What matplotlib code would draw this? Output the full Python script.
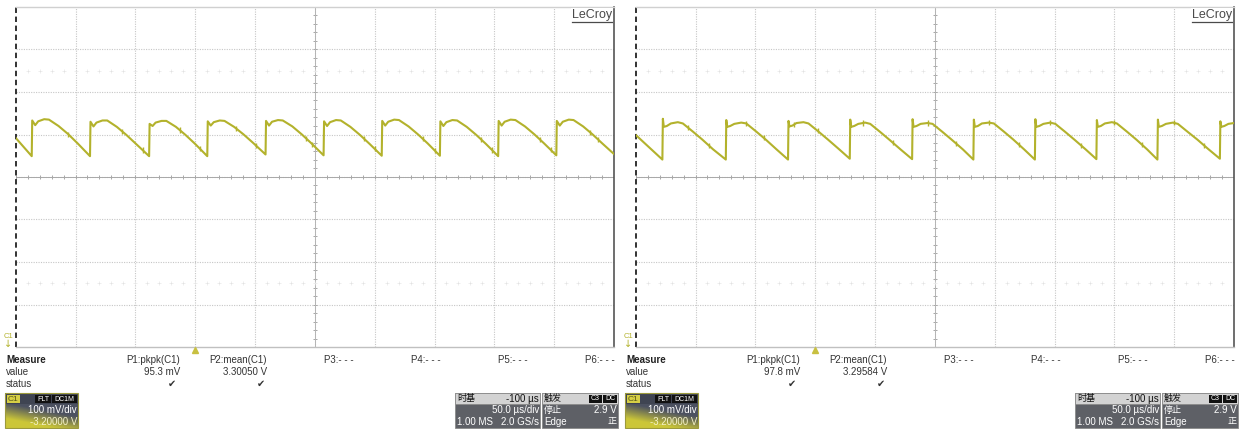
import numpy as np
import matplotlib
matplotlib.use("Agg")
import matplotlib.pyplot as plt
from matplotlib.patches import Rectangle

plt.rcParams['font.family'] = ['Liberation Sans', 'Noto Sans CJK SC', 'DejaVu Sans']

# scope settings (same for both captures)
T_LEFT = -150.0   # us at left edge of screen
T_DIV = 50.0      # us/div
V_CENTER = 3.2    # V at screen centre (offset -3.2 V)
V_DIV = 0.1       # V/div

# left capture, C1 trace (us, V)
left_t = [-150.0, -136.6,
          -136.2, -133.7, -131.2, -126.2, -122.2, -114.2, -106.2, -98.2, -87.9,
          -87.5, -85.0, -82.5, -77.5, -73.5, -65.5, -57.5, -49.5, -38.5,
          -38.1, -35.6, -33.1, -28.1, -24.1, -16.1, -8.1, -0.1, 10.1,
          10.5, 13.0, 15.5, 20.5, 24.5, 32.5, 40.5, 48.5, 58.8,
          59.2, 61.7, 64.2, 69.2, 73.2, 81.2, 89.2, 97.2, 107.3,
          107.7, 110.2, 112.7, 117.7, 121.7, 129.7, 137.7, 145.7, 155.9,
          156.3, 158.8, 161.3, 166.3, 170.3, 178.3, 186.3, 194.3, 204.5,
          204.9, 207.4, 209.9, 214.9, 218.9, 226.9, 234.9, 242.9, 253.2,
          253.6, 256.1, 258.6, 263.6, 267.6, 275.6, 283.6, 291.6, 301.8,
          302.2, 304.7, 307.2, 312.2, 316.2, 324.2, 332.2, 340.2, 350.0]
left_v = [3.292, 3.249,
          3.333, 3.322, 3.331, 3.336, 3.335, 3.320, 3.301, 3.279, 3.249,
          3.330, 3.319, 3.328, 3.333, 3.333, 3.318, 3.299, 3.278, 3.249,
          3.325, 3.320, 3.328, 3.332, 3.332, 3.318, 3.299, 3.278, 3.249,
          3.331, 3.321, 3.329, 3.333, 3.332, 3.318, 3.300, 3.280, 3.253,
          3.332, 3.321, 3.330, 3.334, 3.333, 3.319, 3.300, 3.279, 3.251,
          3.331, 3.320, 3.329, 3.334, 3.333, 3.318, 3.299, 3.278, 3.250,
          3.332, 3.321, 3.330, 3.335, 3.334, 3.319, 3.300, 3.279, 3.250,
          3.331, 3.320, 3.329, 3.334, 3.333, 3.318, 3.299, 3.278, 3.249,
          3.332, 3.321, 3.330, 3.335, 3.334, 3.319, 3.300, 3.279, 3.251,
          3.332, 3.321, 3.330, 3.335, 3.334, 3.319, 3.300, 3.279, 3.254]
left_spikes = [-106, -61, -44, -13, 4, 34, 51, 93, 98, 141, 150, 190, 200, 239, 248, 288, 297, 330, 337]

# right capture
right_t = [-150.0, -127.7,
           -127.3, -126.5, -124.0, -120.6, -114.8, -110.6, -102.3, -94.3, -85.3, -74.7,
           -74.3, -73.5, -71.0, -67.6, -61.8, -57.6, -49.3, -41.3, -32.3, -22.7,
           -22.3, -21.5, -19.0, -15.6, -9.8, -5.6, 2.7, 10.7, 19.7, 28.9,
           29.3, 30.1, 32.6, 36.0, 41.8, 46.0, 54.3, 62.3, 71.3, 81.0,
           81.4, 82.2, 84.7, 88.1, 93.9, 98.1, 106.4, 114.4, 123.4, 132.2,
           132.6, 133.4, 135.9, 139.3, 145.1, 149.3, 157.6, 165.6, 174.6, 183.6,
           184.0, 184.8, 187.3, 190.7, 196.5, 200.7, 209.0, 217.0, 226.0, 235.0,
           235.4, 236.2, 238.7, 242.1, 247.9, 252.1, 260.4, 268.4, 277.4, 286.0,
           286.4, 287.2, 289.7, 293.1, 298.9, 303.1, 311.4, 319.4, 328.4, 338.2,
           338.6, 339.4, 341.9, 345.3, 350.0]
right_v = [3.299, 3.241,
           3.337, 3.318, 3.320, 3.326, 3.329, 3.326, 3.307, 3.288, 3.265, 3.241,
           3.334, 3.318, 3.320, 3.325, 3.328, 3.326, 3.307, 3.288, 3.265, 3.241,
           3.332, 3.319, 3.321, 3.327, 3.329, 3.326, 3.307, 3.288, 3.266, 3.243,
           3.335, 3.318, 3.320, 3.325, 3.328, 3.325, 3.306, 3.287, 3.265, 3.242,
           3.336, 3.318, 3.320, 3.325, 3.327, 3.325, 3.306, 3.287, 3.265, 3.241,
           3.335, 3.318, 3.320, 3.326, 3.328, 3.326, 3.307, 3.288, 3.265, 3.241,
           3.336, 3.318, 3.320, 3.325, 3.328, 3.325, 3.306, 3.287, 3.265, 3.242,
           3.334, 3.318, 3.320, 3.326, 3.329, 3.326, 3.307, 3.288, 3.265, 3.241,
           3.335, 3.318, 3.320, 3.325, 3.328, 3.325, 3.306, 3.288, 3.266, 3.243,
           3.331, 3.318, 3.320, 3.325, 3.327]
right_spikes = [-106, -89, -58, -43, -18, 2, 40, 65, 94, 118, 145, 170, 196, 222, 250, 273, 300, 325]

# measurement readouts
meas_labels = ["P1:pkpk(C1)", "P2:mean(C1)", "P3:- - -", "P4:- - -", "P5:- - -", "P6:- - -"]
left_values = ["95.3 mV", "3.30050 V"]
right_values = ["97.8 mV", "3.29584 V"]

TRACE = '#b3b22c'
W, H = 1239, 429

fig = plt.figure(figsize=(W / 100, H / 100), dpi=100)
fig.patch.set_facecolor('white')

ov = fig.add_axes([0, 0, 1, 1], zorder=5)
ov.set_xlim(0, W)
ov.set_ylim(H, 0)
ov.axis('off')
ov.patch.set_alpha(0)


def scope_axes(x0):
    left, right, top, bot = x0 + 15.7, x0 + 614.0, 7.0, 347.0
    ax = fig.add_axes([left / W, 1 - bot / H, (right - left) / W, (bot - top) / H])
    ax.set_xlim(T_LEFT, T_LEFT + 10 * T_DIV)
    ax.set_ylim(V_CENTER - 4 * V_DIV, V_CENTER + 4 * V_DIV)
    ax.set_xticks([])
    ax.set_yticks([])
    for s in ax.spines.values():
        s.set_visible(False)
    tc = T_LEFT + 5 * T_DIV
    # grid
    for k in range(1, 10):
        ax.axvline(T_LEFT + k * T_DIV, color='#c6c6c6', ls=(0, (1, 1.2)), lw=0.8, zorder=1)
    for k in range(1, 8):
        ax.axhline(V_CENTER - 4 * V_DIV + k * V_DIV, color='#c6c6c6', ls=(0, (1, 1.2)), lw=0.8, zorder=1)
    # centre ticks
    xt = np.arange(T_LEFT, T_LEFT + 10 * T_DIV + 1, T_DIV / 5)
    ax.vlines(xt, V_CENTER - 0.005, V_CENTER + 0.005, color='#a8a8a8', lw=0.7, zorder=1)
    yt = np.arange(V_CENTER - 4 * V_DIV, V_CENTER + 4 * V_DIV + 1e-6, V_DIV / 5)
    ax.hlines(yt, tc - 1.6, tc + 1.6, color='#a8a8a8', lw=0.7, zorder=1)
    ax.axhline(V_CENTER, color='#a8a8a8', lw=0.7, zorder=1)
    ax.axvline(tc, color='#b4b4b4', lw=0.7, zorder=1)
    # faint marker rows
    xd = np.arange(T_LEFT + 10, T_LEFT + 10 * T_DIV, 10)
    for vy in (V_CENTER + 2.5 * V_DIV, V_CENTER - 2.5 * V_DIV):
        ax.plot(xd, np.full(len(xd), vy), ls='none', marker='+', ms=2.2, mew=0.4, color='#e2e2e2', zorder=1)
    # borders
    ax.axvline(T_LEFT, color='#222222', ls=(0, (3, 2)), lw=1.3, zorder=3, clip_on=False)
    ax.axvline(T_LEFT + 10 * T_DIV, color='#555555', lw=1.2, zorder=3, clip_on=False)
    ax.axhline(V_CENTER + 4 * V_DIV, color='#d0d0d0', lw=1.0, zorder=3, clip_on=False)
    ax.axhline(V_CENTER - 4 * V_DIV, color='#c0c0c0', lw=1.0, zorder=3, clip_on=False)
    return ax


def small_box(x, y, w, h, text, fc, tc, size=5.5):
    ov.add_patch(Rectangle((x, y), w, h, facecolor=fc, edgecolor='none', zorder=7))
    ov.text(x + w / 2, y + h / 2 + 0.3, text, color=tc, fontsize=size, ha='center', va='center', zorder=8)


def draw_panel(x0, t, v, spikes, values):
    ax = scope_axes(x0)
    ax.plot(t, v, color=TRACE, lw=1.5, zorder=4, solid_joinstyle='round')
    sv = np.interp(spikes, t, v)
    ax.vlines(spikes, sv - 0.006, sv + 0.006, color=TRACE, lw=1.0, zorder=4)

    # LeCroy logo
    ov.text(x0 + 612, 15, "LeCroy", fontsize=9, color='#4a4a4a', ha='right', va='center',
            bbox=dict(facecolor='white', edgecolor='none', pad=0.5), zorder=6)
    ov.plot([x0 + 572, x0 + 612], [21.5, 21.5], color='#4a4a4a', lw=0.9, zorder=6)

    # channel marker + trigger marker
    ov.text(x0 + 8, 336, "C1", fontsize=5.5, color=TRACE, ha='center', va='center', zorder=6)
    ov.text(x0 + 8, 343.5, "↓", fontsize=7, color=TRACE, ha='center', va='center',
            family='DejaVu Sans', zorder=6)
    ov.plot([x0 + 195], [349.5], marker='^', ms=5, color='#c8c040', zorder=6, clip_on=False)

    # measure table
    ov.text(x0 + 6, 360, "Measure", fontsize=7, fontweight='bold', color='#222222', va='center')
    ov.text(x0 + 6, 372, "value", fontsize=7, color='#333333', va='center')
    ov.text(x0 + 6, 384, "status", fontsize=7, color='#333333', va='center')
    for i, lab in enumerate(meas_labels):
        ov.text(x0 + 180 + 87 * i, 360, lab, fontsize=7, color='#333333', ha='right', va='center')
    for i, val in enumerate(values):
        ov.text(x0 + 180 + 87 * i, 372, val, fontsize=7, color='#333333', ha='right', va='center')
        ov.text(x0 + 176 + 89 * i, 384, "✔", fontsize=7, color='#333333', ha='right', va='center',
                family='DejaVu Sans')

    # C1 channel box
    bx, by, bw, bh = x0 + 5, 393, 73, 35
    gy, gx = np.mgrid[0:1:40j, 0:1:80j]
    wgt = np.clip(1.5 * gy - 0.9 * gx + 0.1, 0, 1)[..., None]
    dark = np.array([0.30, 0.32, 0.38])
    yel = np.array([0.80, 0.78, 0.22])
    img = dark * (1 - wgt) + yel * wgt
    ov.imshow(img, extent=(bx, bx + bw, by + bh, by + 11), aspect='auto', zorder=6)
    ov.add_patch(Rectangle((bx, by), bw, 11, facecolor='#3f4452', edgecolor='none', zorder=6))
    ov.add_patch(Rectangle((bx, by), bw, bh, facecolor='none', edgecolor='#9c9a3c', lw=0.8, zorder=9))
    small_box(bx + 1.5, by + 1.5, 13, 8.5, "C1", '#d6cf45', '#55551a', 6)
    small_box(bx + 30, by + 2, 16, 7.5, "FLT", '#111111', 'white', 5)
    small_box(bx + 47, by + 2, 25, 7.5, "DC1M", '#111111', 'white', 5)
    ov.text(bx + bw - 1, 410, "100 mV/div", fontsize=7, color='white', ha='right', va='center', zorder=8)
    ov.text(bx + bw - 1, 422, "-3.20000 V", fontsize=7, color='#f4f2c8', ha='right', va='center', zorder=8)

    # timebase box
    tx, tw = x0 + 455, 85
    ov.add_patch(Rectangle((tx, 393), tw, 35, facecolor='#5e6066', edgecolor='#8a8a8a', lw=0.6, zorder=6))
    ov.add_patch(Rectangle((tx, 393), tw, 11, facecolor='#d3d3d3', edgecolor='#8a8a8a', lw=0.6, zorder=6))
    ov.text(tx + 2, 398.5, "时基", fontsize=6.5, color='#111111', va='center', zorder=8)
    ov.text(tx + tw - 1, 398.5, "-100 µs", fontsize=7, color='#111111', ha='right', va='center', zorder=8)
    ov.text(tx + tw - 1, 410, "50.0 µs/div", fontsize=7, color='white', ha='right', va='center', zorder=8)
    ov.text(tx + 2, 422, "1.00 MS", fontsize=7, color='white', va='center', zorder=8)
    ov.text(tx + tw - 1, 422, "2.0 GS/s", fontsize=7, color='white', ha='right', va='center', zorder=8)

    # trigger box
    rx, rw = x0 + 542, 76
    ov.add_patch(Rectangle((rx, 393), rw, 35, facecolor='#5e6066', edgecolor='#8a8a8a', lw=0.6, zorder=6))
    ov.add_patch(Rectangle((rx, 393), rw, 11, facecolor='#d3d3d3', edgecolor='#8a8a8a', lw=0.6, zorder=6))
    ov.text(rx + 2, 398.5, "触发", fontsize=6.5, color='#111111', va='center', zorder=8)
    small_box(rx + 47, 394.5, 13, 8, "C3", '#111111', 'white', 5)
    small_box(rx + 61, 394.5, 14, 8, "DC", '#111111', 'white', 5)
    ov.text(rx + 2, 410, "停止", fontsize=6.5, color='white', va='center', zorder=8)
    ov.text(rx + rw - 1, 410, "2.9 V", fontsize=7, color='white', ha='right', va='center', zorder=8)
    ov.text(rx + 2, 422, "Edge", fontsize=7, color='white', va='center', zorder=8)
    ov.text(rx + rw - 1, 422, "正", fontsize=6.5, color='white', ha='right', va='center', zorder=8)


draw_panel(0, left_t, left_v, left_spikes, left_values)
draw_panel(620, right_t, right_v, right_spikes, right_values)

ov.set_xlim(0, W)
ov.set_ylim(H, 0)

fig.savefig("out.png", dpi=100, facecolor='white')
